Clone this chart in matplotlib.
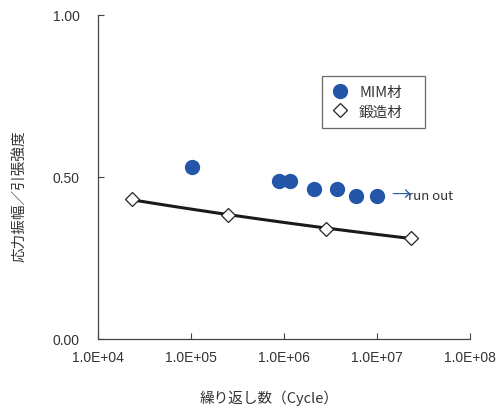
import numpy as np
import matplotlib
matplotlib.use('Agg')
from matplotlib import pyplot as plt

plt.rcParams['font.family'] = ['Liberation Sans', 'Noto Sans CJK JP', 'DejaVu Sans']

# データ
mim_cycles = [1.03e5, 8.8e5, 1.16e6, 2.1e6, 3.7e6, 6.0e6, 1.0e7]
mim_ratio = [0.530, 0.487, 0.487, 0.463, 0.463, 0.442, 0.442]
forged_cycles = [2.3e4, 2.5e5, 2.8e6, 2.3e7]
forged_ratio = [0.432, 0.382, 0.341, 0.312]
x_ticks = [1e4, 1e5, 1e6, 1e7, 1e8]
x_ticklabels = ['1.0E+04', '1.0E+05', '1.0E+06', '1.0E+07', '1.0E+08']
y_ticks = [0.0, 0.5, 1.0]
y_ticklabels = ['0.00', '0.50', '1.00']

text_c = '#333333'
cjk = ['Noto Sans CJK JP', 'DejaVu Sans']
fig = plt.figure(figsize=(4.98, 4.10), dpi=100)
ax = fig.add_axes([98 / 498, 70 / 410, 372 / 498, 324 / 410])

# 鍛造材の累乗近似線
b, a = np.polyfit(np.log10(forged_cycles), np.log10(forged_ratio), 1)
fx = np.logspace(np.log10(forged_cycles[0]), np.log10(forged_cycles[-1]), 50)
ax.plot(fx, 10 ** a * fx ** b, color='#1a1a1a', lw=2.2, zorder=2)

ax.plot(mim_cycles, mim_ratio, 'o', ms=10, color='#2356a8', mec='#2356a8',
        label='MIM材', zorder=3)
ax.plot(forged_cycles, forged_ratio, 'D', ms=7.5, mfc='white', mec='#222222',
        mew=0.9, label='鍛造材', zorder=3)

# run out 表示
ax.annotate('→', xy=(mim_cycles[-1], mim_ratio[-1]), xytext=(10, 1),
            textcoords='offset points', va='center', ha='left',
            fontsize=14, color='#2f5fb0', family=cjk)
ax.annotate('run out', xy=(mim_cycles[-1], mim_ratio[-1]), xytext=(22, 0),
            textcoords='offset points', va='center', ha='left',
            fontsize=9.5, color=text_c, family=cjk)

ax.set_xscale('log')
ax.set_xlim(1e4, 1e8)
ax.set_ylim(0, 1)
ax.set_xticks(x_ticks)
ax.set_xticklabels(x_ticklabels)
ax.set_yticks(y_ticks)
ax.set_yticklabels(y_ticklabels)
ax.minorticks_off()
ax.tick_params(direction='in', length=4, width=0.8, colors='#444444',
               labelcolor=text_c, labelsize=10)
ax.tick_params(axis='y', pad=13)
ax.tick_params(axis='x', pad=8)
for s in ['top', 'right']:
    ax.spines[s].set_visible(False)
for s in ['left', 'bottom']:
    ax.spines[s].set_color('#444444')
    ax.spines[s].set_linewidth(0.9)

ax.set_xlabel('繰り返し数（Cycle）', fontsize=10.5, color=text_c, family=cjk)
ax.xaxis.set_label_coords((269 - 98) / 372, -(391 - 340) / 324)
ax.set_ylabel('応力振幅／引張強度', fontsize=10.5, color=text_c, family=cjk)
ax.yaxis.set_label_coords(-(98 - 27) / 372, (340 - 196) / 324)

# 凡例（枠の幅を参照図に合わせる）
leg = ax.legend(loc='upper left', mode='expand',
                bbox_to_anchor=((322 - 98) / 372, (340 - 128) / 324, 103 / 372, 51 / 324),
                borderaxespad=0, frameon=True, fancybox=False, edgecolor='#444444',
                handlelength=1.2, handletextpad=0.7, borderpad=0.65, labelspacing=0.35,
                prop={'family': cjk, 'size': 10.5})
leg.get_frame().set_linewidth(0.9)
for t in leg.get_texts():
    t.set_color(text_c)

fig.savefig('out.png', dpi=100)
